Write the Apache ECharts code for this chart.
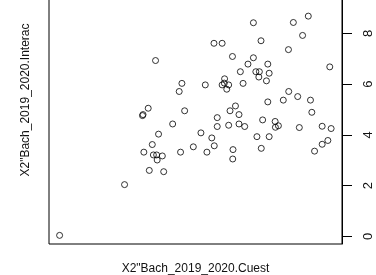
<!DOCTYPE html>
<html>
<head>
<meta charset="utf-8">
<script src="https://cdn.jsdelivr.net/npm/echarts@6/dist/echarts.min.js"></script>
<style>
    html, body {margin: 0; padding: 0; background: #fff;}
    #scatter__main {width: 376px; height: 275px;}
</style>
</head>
<body>
<div id="scatter__main"></div>
<script>
const X_NAME = 'X2"Bach_2019_2020.Cuest';
const Y_NAME = 'X2"Bach_2019_2020.Interac';
const Y_TICKS = [0, 2, 4, 6, 8];

// x has no labels so it is on an arbitrary 0..10 scale
const cuest = [
    0.00, 2.39, 3.30, 3.83, 3.10, 3.41, 3.45, 3.57, 3.59, 3.78,
    3.64, 4.45, 4.92, 5.42, 5.69, 5.60, 5.20, 4.16, 3.05, 3.07,
    3.26, 4.60, 4.40, 4.50, 3.53, 5.36, 5.68, 5.98, 6.36, 5.80,
    5.80, 6.22, 6.27, 6.47, 6.60, 6.60, 6.81, 6.38, 6.37, 5.98,
    6.07, 6.06, 6.15, 6.22, 6.65, 6.75, 6.93, 7.13, 7.13, 7.41,
    7.22, 7.35, 7.33, 7.66, 7.71, 7.61, 7.66, 7.47, 7.26, 7.42,
    7.71, 7.93, 7.94, 8.05, 8.23, 8.43, 8.76, 8.82, 8.42, 8.60,
    8.94, 9.15, 9.23, 9.28, 9.38, 9.66, 9.87, 9.66, 9.99, 9.94
];
const interac = [
    0.04, 2.04, 2.60, 2.55, 3.32, 3.62, 3.21, 3.21, 3.01, 3.17,
    4.03, 3.32, 3.53, 3.32, 3.57, 3.88, 4.08, 4.43, 4.76, 4.80,
    5.05, 4.95, 5.71, 6.03, 6.93, 5.97, 7.61, 7.61, 7.09, 4.68,
    4.33, 4.38, 4.95, 5.14, 4.80, 4.43, 4.33, 3.42, 3.05, 5.97,
    6.21, 6.04, 5.80, 5.97, 6.49, 6.03, 6.79, 7.04, 8.42, 7.71,
    6.49, 6.49, 6.28, 6.79, 6.43, 6.13, 5.30, 4.59, 3.93, 3.47,
    3.93, 4.53, 4.30, 4.36, 5.37, 5.71, 5.51, 4.29, 7.36, 8.43,
    7.92, 8.68, 5.37, 4.89, 3.36, 3.63, 3.78, 4.34, 4.25, 6.68
];

$ready();

function $ready() {
    let chartDom = document.getElementById('scatter__main');
    let myChart = echarts.init(chartDom, null, {renderer: 'canvas'});
    let points = cuest.map((x, i) => [x, interac[i]]);
    let font = '"Liberation Sans", Arial, sans-serif';

    let option = {
        animation: false,
        grid: {
            left: 49,
            right: 34,
            top: -44,
            bottom: 31,
            outerBoundsMode: 'none',
            containLabel: false,
            show: true,
            borderColor: '#000',
            borderWidth: 1,
        },
        xAxis: {
            type: 'value',
            min: -0.39,
            max: 10.39,
            name: X_NAME,
            nameLocation: 'middle',
            nameGap: 19,
            nameTextStyle: {color: '#111', fontSize: 12, fontFamily: font},
            axisLine: {show: false},
            axisTick: {show: false},
            axisLabel: {show: false},
            splitLine: {show: false},
        },
        yAxis: [
            {
                type: 'value',
                position: 'right',
                min: -0.3,
                max: 11.05,
                axisLine: {show: true, onZero: false, lineStyle: {color: '#000', width: 1}},
                axisTick: {show: true, length: 10, customValues: Y_TICKS, lineStyle: {color: '#000'}},
                axisLabel: {
                    show: true,
                    customValues: Y_TICKS,
                    rotate: 90,
                    margin: 20,
                    color: '#111',
                    fontSize: 13,
                    fontFamily: font,
                },
                splitLine: {show: false},
            },
            {
                type: 'value',
                position: 'left',
                min: -0.3,
                max: 11.05,
                name: Y_NAME,
                nameLocation: 'middle',
                nameRotate: 90,
                nameGap: 17,
                nameTextStyle: {color: '#111', fontSize: 12, fontFamily: font},
                axisLine: {show: false},
                axisTick: {show: false},
                axisLabel: {show: false},
                splitLine: {show: false},
            }
        ],
        series: [
            {
                type: 'scatter',
                data: points,
                symbol: 'circle',
                symbolSize: 6,
                itemStyle: {color: 'rgba(0,0,0,0)', borderColor: '#000', borderWidth: 1},
            }
        ],
    };

    option && myChart.setOption(option);
}
</script>
</body>
</html>
